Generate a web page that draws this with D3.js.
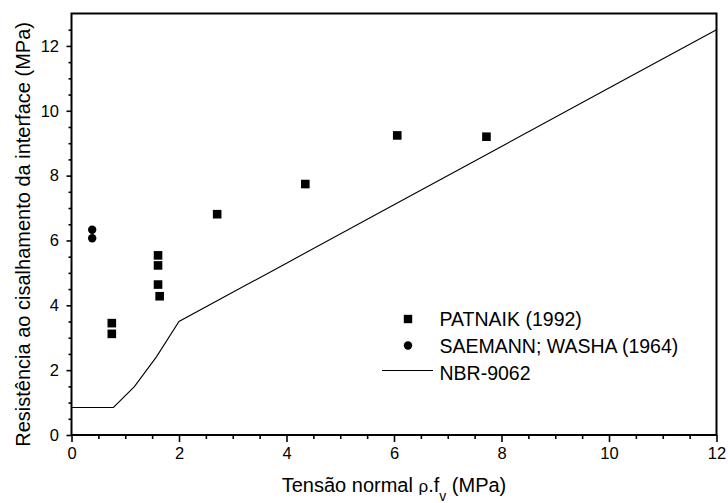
<!DOCTYPE html>
<html>
<head>
<meta charset="utf-8">
<script src="https://cdn.jsdelivr.net/npm/d3@7"></script>
<style>
body { margin: 0; background: #fff; }
svg { font-family: "Liberation Sans", Arial, sans-serif; }
</style>
</head>
<body>
<svg width="728" height="503"></svg>
<script>
// PATNAIK (1992)
var patnaikX = [0.75, 0.75, 1.61, 1.61, 1.61, 1.64, 2.71, 4.35, 6.06, 7.72];
var patnaikY = [3.45, 3.12, 5.54, 5.23, 4.64, 4.28, 6.81, 7.74, 9.24, 9.20];
// SAEMANN; WASHA (1964)
var saemannX = [0.385, 0.385];
var saemannY = [6.33, 6.07];
// NBR-9062
var nbrX = [0, 0.78, 1.17, 1.58, 2, 4, 6, 8, 10, 12];
var nbrY = [0.85, 0.85, 1.49, 2.41, 3.5, 5.3, 7.1, 8.9, 10.7, 12.5];

var xTicks = [0, 2, 4, 6, 8, 10, 12];
var yTicks = [0, 2, 4, 6, 8, 10, 12];
var legendNames = ["PATNAIK (1992)", "SAEMANN; WASHA (1964)", "NBR-9062"];

var svg = d3.select("svg");
var plotLeft = 71.5, plotRight = 716.5, plotTop = 13.5, plotBottom = 435;

var xScale = d3.scaleLinear().domain([0, 12]).range([plotLeft, plotRight]);
var yScale = d3.scaleLinear().domain([0, 13]).range([plotBottom, plotTop]);

var xMinor = d3.range(0, 12.01, 0.5).filter(function(v){ return v % 2 != 0; });
var yMinor = d3.range(0, 12.51, 0.5).filter(function(v){ return v % 2 != 0; });

// x axis
var gx = svg.append("g").attr("transform", "translate(0," + plotBottom + ")");
gx.call(d3.axisBottom(xScale).tickValues(xTicks).tickSize(7).tickPadding(5).tickFormat(d3.format("d")));
var gxm = svg.append("g").attr("transform", "translate(0," + plotBottom + ")");
gxm.call(d3.axisBottom(xScale).tickValues(xMinor).tickSize(4).tickFormat(""));

// y axis
var gy = svg.append("g").attr("transform", "translate(" + plotLeft + ",0)");
gy.call(d3.axisLeft(yScale).tickValues(yTicks).tickSize(5).tickPadding(7.5).tickFormat(d3.format("d")));
var gym = svg.append("g").attr("transform", "translate(" + plotLeft + ",0)");
gym.call(d3.axisLeft(yScale).tickValues(yMinor).tickSize(3).tickFormat(""));

svg.selectAll(".domain").remove();
svg.selectAll(".tick line").attr("stroke", "#000").attr("stroke-width", 1.6);
svg.selectAll(".tick text").attr("fill", "#000").style("font-size", "16.5px")
  .style("font-family", "'Liberation Sans', Arial, sans-serif");

// frame
svg.append("rect")
  .attr("x", plotLeft).attr("y", plotTop)
  .attr("width", plotRight - plotLeft).attr("height", plotBottom - plotTop)
  .attr("fill", "none").attr("stroke", "#000").attr("stroke-width", 2);

// NBR line
var nbr = nbrX.map(function(x, i){ return [x, nbrY[i]]; });
svg.append("path")
  .datum(nbr)
  .attr("fill", "none")
  .attr("stroke", "#000")
  .attr("stroke-width", 1.1)
  .attr("d", d3.line().x(function(d){ return xScale(d[0]); }).y(function(d){ return yScale(d[1]); }));

// PATNAIK squares
var sq = 8.6;
svg.selectAll(".patnaik")
  .data(patnaikX.map(function(x, i){ return [x, patnaikY[i]]; }))
  .enter()
  .append("rect")
  .attr("class", "patnaik")
  .attr("x", function(d){ return xScale(d[0]) - sq / 2; })
  .attr("y", function(d){ return yScale(d[1]) - sq / 2; })
  .attr("width", sq).attr("height", sq)
  .attr("fill", "#000");

// SAEMANN circles
svg.selectAll(".saemann")
  .data(saemannX.map(function(x, i){ return [x, saemannY[i]]; }))
  .enter()
  .append("circle")
  .attr("class", "saemann")
  .attr("cx", function(d){ return xScale(d[0]); })
  .attr("cy", function(d){ return yScale(d[1]); })
  .attr("r", 4.2)
  .attr("fill", "#000");

// legend
var lg = svg.append("g");
lg.append("rect").attr("x", 408 - 4.2).attr("y", 319 - 4.2).attr("width", 8.4).attr("height", 8.4).attr("fill", "#000");
lg.append("circle").attr("cx", 408).attr("cy", 345.5).attr("r", 4.2).attr("fill", "#000");
lg.append("line").attr("x1", 382).attr("x2", 433).attr("y1", 370.5).attr("y2", 370.5)
  .attr("stroke", "#000").attr("stroke-width", 1.1);
lg.selectAll("text")
  .data(legendNames)
  .enter()
  .append("text")
  .attr("x", 439.5)
  .attr("y", function(d, i){ return 325.5 + i * 27.2; })
  .style("font-size", "19.5px")
  .attr("fill", "#000")
  .text(function(d){ return d; });

// axis titles
var xt = svg.append("text")
  .attr("x", 394)
  .attr("y", 492.3)
  .attr("text-anchor", "middle")
  .style("font-size", "20px")
  .attr("fill", "#000");
xt.append("tspan").text("Tensão normal ");
xt.append("tspan").style("font-size", "17px").text("ρ");
xt.append("tspan").text(".f");
xt.append("tspan").attr("dy", 9).style("font-size", "14px").text("v");
xt.append("tspan").attr("dy", -9).text(" (MPa)");

svg.append("text")
  .attr("transform", "translate(29.5,234.4) rotate(-90)")
  .attr("text-anchor", "middle")
  .style("font-size", "20px")
  .attr("fill", "#000")
  .text("Resistência ao cisalhamento da interface (MPa)");
</script>
</body>
</html>
